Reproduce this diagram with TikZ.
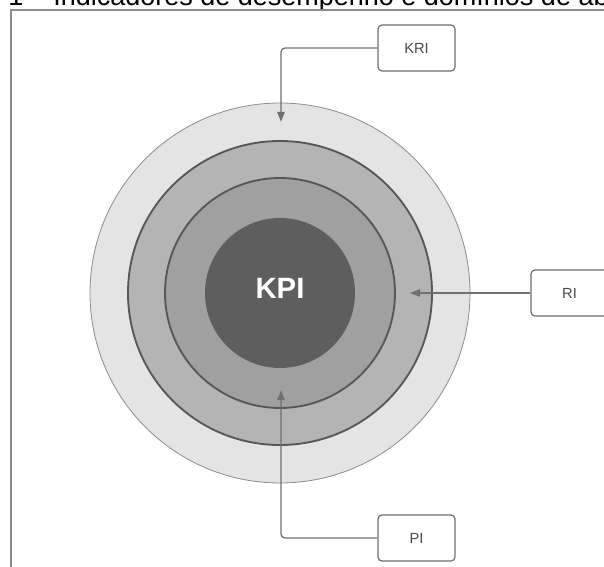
\documentclass[tikz,border=0pt]{standalone}
\usepackage{fontspec}
\setmainfont{Liberation Sans}
\usetikzlibrary{arrows.meta}
\definecolor{outerc}{HTML}{E4E4E4}
\definecolor{midc}{HTML}{B4B4B4}
\definecolor{innerc}{HTML}{A0A0A0}
\definecolor{corec}{HTML}{5E5E5E}
\definecolor{edgec}{HTML}{575757}
\definecolor{framec}{HTML}{8C8C8C}
\definecolor{boxc}{HTML}{6E6E6E}
\definecolor{linec}{HTML}{707070}
\definecolor{labc}{HTML}{4A4A4A}
\begin{document}
\begin{tikzpicture}[
  x=0.75pt,y=-0.75pt,
  ring/.style={circle,draw=edgec,line width=1.4pt,inner sep=0pt},
  tag/.style={draw=boxc,fill=white,rounded corners=3pt,line width=0.9pt,minimum width=57.75pt,minimum height=34.5pt,font=\fontsize{11}{13}\selectfont,text=labc},
  ar/.style={draw=linec,line width=1pt,rounded corners=3pt,-{Triangle[length=7.5pt,width=5.5pt]}}
]
\useasboundingbox (0,0) rectangle (604,567);
\clip (0,0) rectangle (604,567);
% caption line, cut by the page edge
\node[anchor=base west,inner sep=0pt,font=\fontsize{20.25}{24}\selectfont] (cap) at (8,5.5) {1 – Indicadores de desempenho e domínios de ab};
\draw[framec,line width=1.1pt] (620,10) -- (11,10) -- (11,580);
% rings
\node[ring,draw=framec,line width=0.6pt,fill=outerc,minimum size=285pt] (kri-ring) at (280,293) {};
\node[ring,fill=midc,minimum size=228pt] (ri-ring) at (280,293) {};
\node[ring,fill=innerc,minimum size=172.5pt] (pi-ring) at (280,293) {};
\node[circle,fill=corec,inner sep=0pt,minimum size=112.5pt,text depth=7pt,text=white,font=\bfseries\fontsize{22}{26}\selectfont] (kpi) at (280,293) {KPI};
% labels
\node[tag] (kri) at (416.5,48) {KRI};
\node[tag] (ri) at (569.5,293) {RI};
\node[tag] (pi) at (416.5,538) {PI};
\coordinate (kriend) at (281,122);
\coordinate (riend) at (410,293);
\coordinate (piend) at (281,390);
\draw[ar] (kri.west) -| (kriend); \draw[ar] (ri.west) -- (riend); \draw[ar] (pi.west) -| (piend);
\end{tikzpicture}
\end{document}
